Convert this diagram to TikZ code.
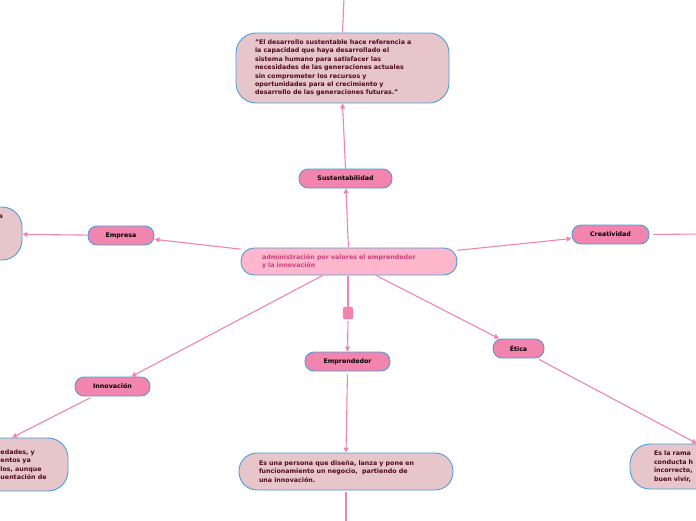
\documentclass[tikz,border=0pt]{standalone}
\usepackage{fontspec}
\setmainfont{DejaVu Sans}
\usetikzlibrary{arrows.meta}
\definecolor{bordc}{HTML}{4A9EDA}
\definecolor{boxf}{HTML}{E6C5CB}
\definecolor{nodef}{HTML}{F285AD}
\definecolor{centf}{HTML}{FEB6CD}
\definecolor{centt}{HTML}{C8407C}
\definecolor{darkt}{HTML}{4D0A1E}
\definecolor{linec}{HTML}{F085AB}
\tikzset{
  base/.style={draw=bordc, line width=0.9pt, inner sep=0pt, font=\bfseries\fontsize{6.3}{8.4}\selectfont},
  topic/.style={base, fill=nodef, rounded corners=9pt, minimum height=19pt, text=black},
  infobox/.style={base, fill=boxf, text=darkt, align=left},
  conn/.style={draw=linec, line width=1.1pt},
  arr/.style={conn, -{Triangle[width=5pt,length=5pt]}},
}
\begin{document}
\begin{tikzpicture}[x=1pt,y=-1pt]
\useasboundingbox (0,0) rectangle (696,520);
% central
\node[base, fill=centf, text=centt, rounded corners=13pt, minimum width=216pt, minimum height=27pt, text width=174pt, align=left] (c) at (349,261.5) {administración por valores el emprendedor\\y la innovación};
% top
\node[infobox, rounded corners=20pt, minimum width=213pt, minimum height=70pt, text width=175pt] (top) at (342.5,68) {"El desarrollo sustentable hace referencia a\\la capacidad que haya desarrollado el\\sistema humano para satisfacer las\\necesidades de las generaciones actuales\\sin comprometer los recursos y\\oportunidades para el crecimiento y\\desarrollo de las generaciones futuras."};
\node[topic, minimum width=93pt] (sust) at (345.5,178.5) {Sustentabilidad};
\node[topic, minimum width=66pt] (emp) at (121,235.5) {Empresa};
\node[infobox, rounded corners=20pt, minimum width=142pt, minimum height=53pt, text width=140pt, align=right] (lt) at (-49,233.5) {a\kern18pt\mbox{}\\~\\~\\~\\~};
\node[topic, minimum width=77pt] (cre) at (610.5,234.5) {Creatividad};
\node[topic, minimum width=75pt] (inn) at (112.5,386.5) {Innovación};
\node[infobox, rounded corners=20pt, minimum width=218pt, minimum height=53pt, text width=200pt] (lb) at (-41,464.5) {\hspace*{141.5pt}edades, y\\\hspace*{141.5pt}entos ya\\\hspace*{141.5pt}los, aunque\\\hspace*{141.5pt}uentación de};
\node[draw=nodef, fill=nodef, rounded corners=1.5pt, minimum width=10pt, minimum height=12pt, inner sep=0pt] (sq) at (348,313) {};
\node[topic, minimum width=85pt] (empr) at (347.5,361.5) {Emprendedor};
\node[infobox, rounded corners=18pt, minimum width=214pt, minimum height=37pt, text width=174pt] (bot) at (346,471.5) {Es una persona que diseña, lanza y pone en\\funcionamiento un negocio,\ \ partiendo de\\una innovación.};
\node[topic, minimum width=51pt] (eti) at (518.5,348.5) {Ética};
\node[infobox, rounded corners=20pt, minimum width=220pt, minimum height=45pt, text width=172pt] (rb) at (740,466.5) {Es la rama\\conducta h\\incorrecto,\\buen vivir,};
% free ends
\coordinate (topin) at (344,-2);
\coordinate (creout) at (700,234);
\coordinate (botout) at (346,522);
% connectors
\draw[conn] (topin) -- (top.north);
\draw[arr] (sust.north) -- (top.south);
\draw[arr] (c) -- (sust);
\draw[arr] (c) -- (emp);
\draw[arr] (emp) -- (lt);
\draw[arr] (c) -- (cre);
\draw[conn, shorten <=4pt] (cre.east) -- (creout);
\draw[arr] (c) -- (inn);
\draw[arr, shorten <=3pt] (inn) -- (lb);
\draw[conn, shorten <=1pt] (c.south -| sq) -- (sq.north);
\draw[arr, shorten <=2pt] (sq.south) -- (empr.north);
\draw[arr, shorten <=3pt] (empr.south) -- (bot.north);
\draw[conn, shorten <=2pt] (bot.south) -- (botout);
\draw[arr] (c) -- (eti);
\draw[arr, shorten <=2pt] (eti) -- (rb);
\end{tikzpicture}
\end{document}
